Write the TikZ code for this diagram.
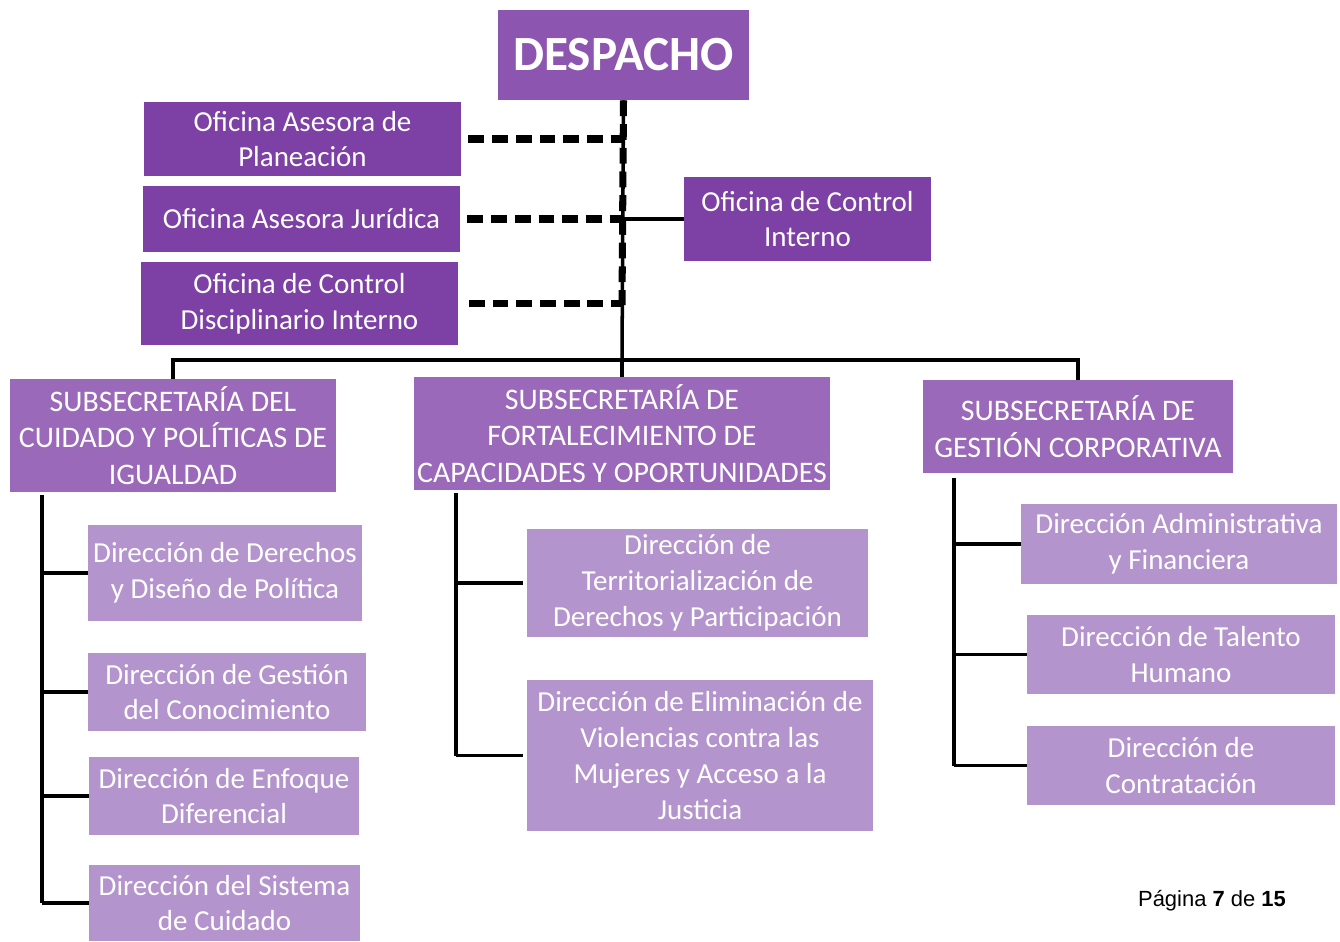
\documentclass[tikz,border=0pt]{standalone}
\usepackage{fontspec}
\setmainfont{Carlito}
\newfontfamily\footfont{Liberation Sans}
\usepackage{color}
\usepackage{tikz}

\definecolor{despachoC}{HTML}{8C55B0}
\definecolor{oficinaC}{HTML}{7D41A5}
\definecolor{subC}{HTML}{9B69B9}
\definecolor{dirC}{HTML}{B494CD}

\begin{document}
\begin{tikzpicture}[x=0.02cm, y=-0.02cm]
  \tikzstyle{box}=[rectangle, text=white, align=center, inner sep=1pt, font=\fontsize{16.5}{20.4}\selectfont]
  \tikzstyle{ofbox}=[box, fill=oficinaC]
  \tikzstyle{subbox}=[box, fill=subC, font=\fontsize{17}{20.8}\selectfont]
  \tikzstyle{dirbox}=[box, fill=dirC]
  \tikzstyle{link}=[line width=2pt]
  \tikzstyle{advisory}=[line width=4pt, dash pattern=on 9pt off 4.5pt]
  \useasboundingbox (0,0) rectangle (1340,942);

  \node[box, fill=despachoC, minimum width=5.02cm, minimum height=1.8cm,
        font=\fontsize{28}{32}\selectfont\bfseries] (despacho) at (623.5,55) {DESPACHO};

  % oficinas
  \node[ofbox, minimum width=6.34cm, minimum height=1.48cm] (ofplan) at (302.5,139) {Oficina Asesora de\\Planeación};
  \node[ofbox, minimum width=6.34cm, minimum height=1.32cm] (ofjur) at (301.5,219) {Oficina Asesora Jurídica};
  \node[ofbox, minimum width=6.34cm, minimum height=1.66cm] (ofdisc) at (299.5,303.5) {Oficina de Control\\Disciplinario Interno};
  \node[ofbox, minimum width=4.94cm, minimum height=1.68cm] (ofcont) at (807.5,219) {Oficina de Control\\Interno};

  % subsecretarias
  \node[subbox, minimum width=6.52cm, minimum height=2.26cm] (sub1) at (173,435.5) {SUBSECRETARÍA DEL\\CUIDADO Y POLÍTICAS DE\\IGUALDAD};
  \node[subbox, minimum width=8.32cm, minimum height=2.26cm] (sub2) at (622,433.5) {SUBSECRETARÍA DE\\FORTALECIMIENTO DE\\CAPACIDADES Y OPORTUNIDADES};
  \node[subbox, minimum width=6.2cm, minimum height=1.86cm] (sub3) at (1078,426.5) {SUBSECRETARÍA DE\\GESTIÓN CORPORATIVA};

  % direcciones
  \node[dirbox, minimum width=5.48cm, minimum height=1.92cm] (d1) at (225,573) {Dirección de Derechos\\y Diseño de Política};
  \node[dirbox, minimum width=5.56cm, minimum height=1.56cm] (d2) at (227,692) {Dirección de Gestión\\del Conocimiento};
  \node[dirbox, minimum width=5.4cm, minimum height=1.56cm] (d3) at (224,796) {Dirección de Enfoque\\Diferencial};
  \node[dirbox, minimum width=5.42cm, minimum height=1.52cm] (d4) at (224.5,903) {Dirección del Sistema\\de Cuidado};

  \node[dirbox, minimum width=6.82cm, minimum height=2.16cm] (m1) at (697.5,583) {Dirección de\\Territorialización de\\Derechos y Participación};
  \node[dirbox, minimum width=6.92cm, minimum height=3.02cm] (m2) at (700,755.5) {Dirección de Eliminación de\\Violencias contra las\\Mujeres y Acceso a la\\Justicia};

  \node[dirbox, minimum width=6.32cm, minimum height=1.6cm] (r1) at (1179,544) {Dirección Administrativa\\y Financiera};
  \node[dirbox, minimum width=6.16cm, minimum height=1.58cm] (r2) at (1181,654.5) {Dirección de Talento\\Humano};
  \node[dirbox, minimum width=6.16cm, minimum height=1.58cm] (r3) at (1181,765.5) {Dirección de\\Contratación};

  \node[font=\footfont\fontsize{12.5}{15}\selectfont] (pagina) at (1212,901) {Página \textbf{7} de \textbf{15}};

  % edges
  \coordinate (bus) at (622,360);
  \coordinate (dashend) at (622,305);
  \coordinate (trunk1) at (42,495);
  \coordinate (trunk2) at (456,493);
  \coordinate (trunk3) at (954,478);

  \draw[link] (despacho.south) -- (bus);
  \draw[advisory] (despacho.south) -- (dashend);
  \draw[advisory, shorten <=4pt] (ofplan.east) -- (ofplan.east -| bus);
  \draw[advisory, shorten <=4pt] (ofjur.east) -- (ofjur.east -| bus);
  \draw[advisory, shorten <=6pt] (ofdisc.east) -- (ofdisc.east -| bus);
  \draw[link] (ofcont.west) -- (ofcont.west -| bus);

  \draw[link] (sub1.north) |- (bus);
  \draw[link] (sub3.north) |- (bus);
  \draw[link] (sub2.north) -- (bus);

  \draw[link] (trunk1) -- (d4.west -| trunk1);
  \draw[link] (d1.west -| trunk1) -- (d1.west);
  \draw[link] (d2.west -| trunk1) -- (d2.west);
  \draw[link] (d3.west -| trunk1) -- (d3.west);
  \draw[link] (d4.west -| trunk1) -- (d4.west);

  \draw[link] (trunk2) -- (m2.west -| trunk2);
  \draw[link] (m1.west -| trunk2) -- ([xshift=-2pt]m1.west);
  \draw[link] (m2.west -| trunk2) -- ([xshift=-2pt]m2.west);

  \draw[link] (trunk3) -- (r3.west -| trunk3);
  \draw[link] (r1.west -| trunk3) -- (r1.west);
  \draw[link] (r2.west -| trunk3) -- (r2.west);
  \draw[link] (r3.west -| trunk3) -- (r3.west);

\end{tikzpicture}
\end{document}
